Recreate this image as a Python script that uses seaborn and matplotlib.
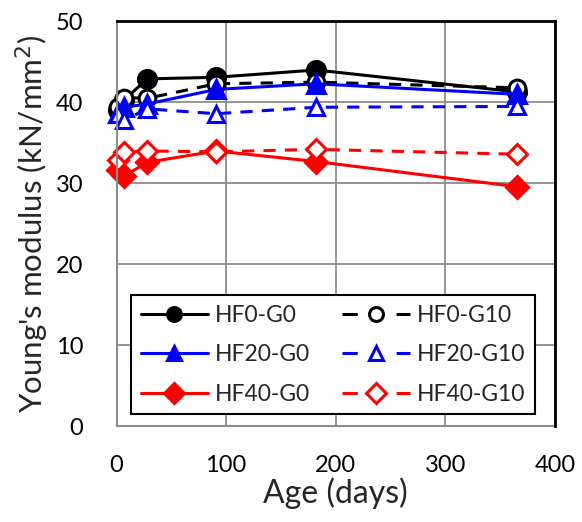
import matplotlib
matplotlib.use("Agg")
import matplotlib.pyplot as plt
import seaborn as sns

# Age at testing (days)
ages = [1, 7, 28, 91, 182, 365]

# Young's modulus (kN/mm2) per mix
hf0_g0 = [39.0, 40.3, 42.9, 43.1, 44.0, 41.3]
hf0_g10 = [39.4, 40.6, 40.5, 42.3, 42.5, 41.8]
hf20_g0 = [38.7, 39.4, 39.8, 41.6, 42.3, 41.0]
hf20_g10 = [38.6, 37.8, 39.2, 38.6, 39.4, 39.5]
hf40_g0 = [31.6, 30.9, 32.6, 34.0, 32.7, 29.6]
hf40_g10 = [32.9, 33.9, 34.0, 33.9, 34.2, 33.6]

labels = ["HF0-G0", "HF0-G10", "HF20-G0", "HF20-G10", "HF40-G0", "HF40-G10"]
x_ticks = [0, 100, 200, 300, 400]
y_ticks = [0, 10, 20, 30, 40, 50]

sns.set_theme(style="white")
plt.rcParams["font.family"] = ["Lato", "DejaVu Sans"]

fig = plt.figure(figsize=(5.82, 5.22), dpi=100)
ax = fig.add_axes([0.2002, 0.1833, 0.7534, 0.7757])

series = [hf0_g0, hf0_g10, hf20_g0, hf20_g10, hf40_g0, hf40_g10]
colors = ["black", "black", "blue", "blue", "red", "red"]
markers = ["o", "o", "^", "^", "D", "D"]
sizes = [13, 12, 13, 12, 11, 10]
filled = [True, False, True, False, True, False]
dash = (0, (4, 3))

for vals, lab, col, mk, ms, fl in zip(series, labels, colors, markers, sizes, filled):
    sns.lineplot(
        x=ages, y=vals, ax=ax, label=lab, color=col,
        linewidth=2.2,
        linestyle="-" if fl else dash,
        marker=mk, markersize=ms,
        markerfacecolor=col if fl else "white",
        markeredgecolor=col, markeredgewidth=2.2,
        clip_on=False,
    )

ax.set_xlim(0, 400)
ax.set_ylim(0, 50)
ax.set_xticks(x_ticks)
ax.set_yticks(y_ticks)
ax.grid(True, color="#8c8c8c", linewidth=1.3)
ax.set_axisbelow(True)

for side in ["top", "right"]:
    ax.spines[side].set_color("black")
    ax.spines[side].set_linewidth(2.0)
for side in ["left", "bottom"]:
    ax.spines[side].set_color("#8c8c8c")
    ax.spines[side].set_linewidth(1.5)
ax.spines["top"].set_zorder(5)
ax.spines["right"].set_zorder(5)

ax.tick_params(axis="both", length=0, labelsize=17, colors="black")
ax.tick_params(axis="y", pad=24)
ax.tick_params(axis="x", pad=21)

ax.set_xlabel("Age (days)", fontsize=23, labelpad=1)
ax.set_ylabel("Young's modulus (kN/mm$^2$)", fontsize=22.5, labelpad=3)

handles, labs = ax.get_legend_handles_labels()
order = [0, 2, 4, 1, 3, 5]
leg = ax.legend(
    [handles[i] for i in order], [labs[i] for i in order],
    ncol=2, loc="lower left", bbox_to_anchor=(0.033, 0.03),
    fontsize=16.5, frameon=True, fancybox=False, framealpha=1,
    edgecolor="black", handlelength=2.95, handletextpad=0.3,
    columnspacing=1.4, labelspacing=0.8, borderpad=0.42,
    borderaxespad=0,
)
leg.get_frame().set_linewidth(1.5)
for h, fl in zip(leg.legend_handles, [filled[i] for i in order]):
    h.set_markersize(10)
    if not fl:
        # short dash at each end of the key with the marker in the middle
        h.set_linestyle((0, (5, 12.7)))

fig.savefig("out.png", dpi=100)
